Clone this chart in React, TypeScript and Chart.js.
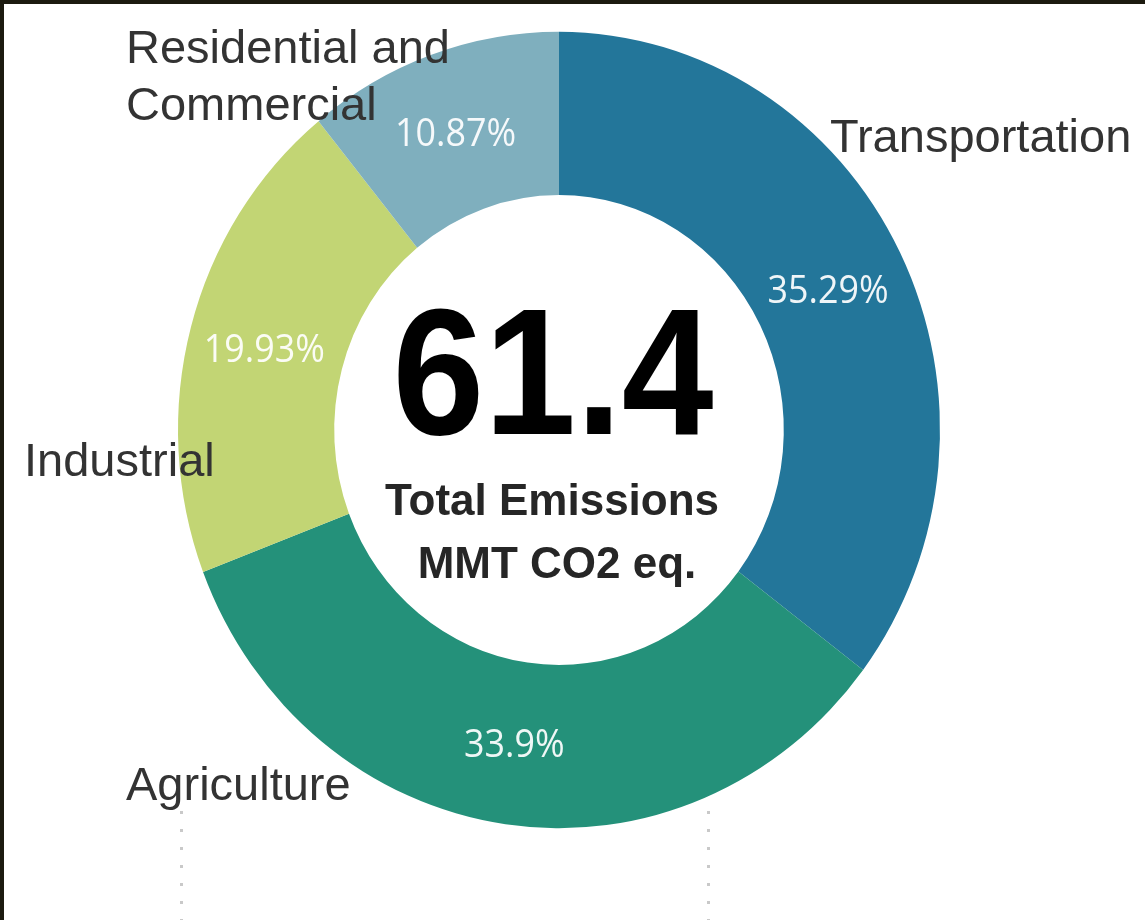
import React, { useEffect, useRef } from 'react';
import { Chart, registerables } from 'chart.js';

Chart.register(...registerables);

// ---- data ----
const categories = ['Transportation', 'Agriculture', 'Industrial', 'Residential and Commercial'];
const shares = [35.29, 33.9, 19.93, 10.87];
const shareLabels = ['35.29%', '33.9%', '19.93%', '10.87%'];
const sliceColors = ['#23769a', '#24917a', '#c2d574', '#7fafbe'];
const totalValue = '61.4';
const centerCaption = ['Total Emissions', 'MMT CO2 eq.'];
const outsideLabelLines = [['Transportation'], ['Agriculture'], ['Industrial'], ['Residential and', 'Commercial']];

// ---- layout / style ----
const W = 1145;
const H = 920;
const STRETCH_Y = 1.045;
const outsideLabelAnchors = [
  { x: 830, y: 152 },
  { x: 126, y: 800 },
  { x: 24, y: 476 },
  { x: 126, y: 63 },
];
const LINE_GAP = 57;

const stretchPlugin = {
  id: 'stretchRing',
  beforeDatasetsDraw(chart: any) {
    const arc = chart.getDatasetMeta(0).data[0];
    const cy = arc.y;
    const ctx = chart.ctx;
    ctx.save();
    ctx.translate(0, cy);
    ctx.scale(1, STRETCH_Y);
    ctx.translate(0, -cy);
  },
  afterDatasetsDraw(chart: any) {
    chart.ctx.restore();
  },
};

const decorPlugin = {
  id: 'decor',
  afterDraw(chart: any) {
    const ctx = chart.ctx as CanvasRenderingContext2D;
    const meta = chart.getDatasetMeta(0);
    const cy = meta.data[0].y;

    ctx.save();
    // percent labels inside slices
    ctx.fillStyle = 'rgba(255,255,255,0.93)';
    ctx.font = '37px "Open Sans", "Noto Sans", sans-serif';
    ctx.textAlign = 'center';
    ctx.textBaseline = 'middle';
    meta.data.forEach((arc: any, i: number) => {
      const p = arc.getCenterPoint();
      const y = cy + (p.y - cy) * STRETCH_Y + 3;
      ctx.save();
      ctx.translate(p.x - 2, y);
      ctx.scale(0.97, 1.05);
      ctx.fillText(shareLabels[i], 0, 0);
      ctx.restore();
    });

    // category labels outside
    ctx.fillStyle = '#333333';
    ctx.font = '47px "Liberation Sans", Arial, sans-serif';
    ctx.textAlign = 'left';
    ctx.textBaseline = 'alphabetic';
    outsideLabelLines.forEach((lines, i) => {
      const a = outsideLabelAnchors[i];
      lines.forEach((line, j) => ctx.fillText(line, a.x, a.y + j * LINE_GAP));
    });

    // center text
    ctx.textAlign = 'center';
    ctx.fillStyle = '#000000';
    ctx.font = 'bold 165px "Liberation Sans", Arial, sans-serif';
    ctx.save();
    ctx.translate(553, 434);
    ctx.scale(1, 1.09);
    ctx.fillText(totalValue, 0, 0);
    ctx.restore();

    ctx.fillStyle = '#262626';
    ctx.font = 'bold 44px "Liberation Sans", Arial, sans-serif';
    ctx.fillText(centerCaption[0], 552, 515);
    ctx.fillText(centerCaption[1], 557, 578);

    // dotted guide lines
    ctx.fillStyle = '#c9c9c9';
    [180, 707].forEach((x) => {
      for (let y = 811; y < H; y += 18) ctx.fillRect(x, y, 3, 3);
    });

    // frame
    ctx.fillStyle = '#1c1a0f';
    ctx.fillRect(0, 0, W, 4);
    ctx.fillRect(0, 0, 4, H);
    ctx.restore();
  },
};

export default function App() {
  const ref = useRef<HTMLCanvasElement | null>(null);

  useEffect(() => {
    document.body.style.margin = '0';
    document.body.style.background = '#ffffff';
    const canvas = ref.current;
    if (!canvas) return;
    const chart = new Chart(canvas, {
      type: 'doughnut',
      data: {
        labels: categories,
        datasets: [
          {
            data: shares,
            backgroundColor: sliceColors,
            borderWidth: 0,
            clip: false as any,
          },
        ],
      },
      options: {
        responsive: false,
        animation: false,
        cutout: '59%',
        layout: { padding: { left: 178, right: 205, top: 49, bottom: 109 } },
        plugins: {
          legend: { display: false },
          tooltip: { enabled: false },
        },
      },
      plugins: [stretchPlugin, decorPlugin],
    });
    return () => chart.destroy();
  }, []);

  return (
    <div style={{ width: W, height: H, background: '#fff' }}>
      <canvas ref={ref} width={W} height={H} style={{ display: 'block', width: W, height: H }} />
    </div>
  );
}
